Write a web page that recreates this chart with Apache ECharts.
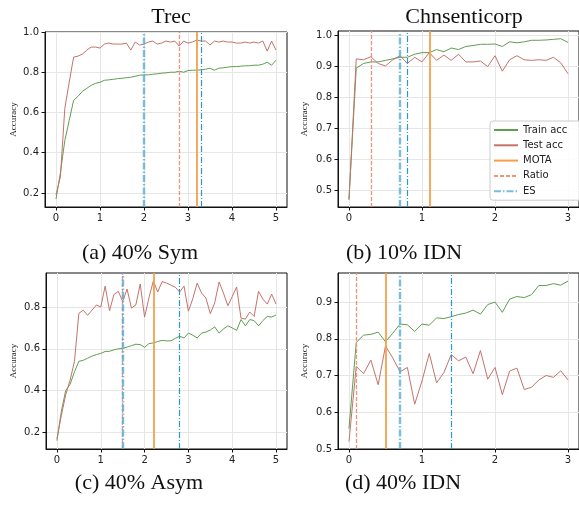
<!DOCTYPE html>
<html>
<head>
<meta charset="utf-8">
<script src="https://cdn.jsdelivr.net/npm/echarts@6/dist/echarts.min.js"></script>
<style>
  html, body { margin: 0; padding: 0; background: #fff; }
  #chart { width: 579px; height: 509px; }
</style>
</head>
<body>
<div id="chart"></div>
<script>
  // epochs
  const epochs5 = [0, 0.1, 0.2, 0.3, 0.4, 0.5, 0.6, 0.7, 0.8, 0.9, 1, 1.1, 1.2, 1.3, 1.4, 1.5, 1.6, 1.7, 1.8, 1.9,
    2, 2.1, 2.2, 2.3, 2.4, 2.5, 2.6, 2.7, 2.8, 2.9, 3, 3.1, 3.2, 3.3, 3.4, 3.5, 3.6, 3.7, 3.8, 3.9,
    4, 4.1, 4.2, 4.3, 4.4, 4.5, 4.6, 4.7, 4.8, 4.9, 5]
  const epochs3 = [0, 0.1, 0.2, 0.3, 0.4, 0.5, 0.6, 0.7, 0.8, 0.9, 1, 1.1, 1.2, 1.3, 1.4, 1.5, 1.6, 1.7, 1.8, 1.9,
    2, 2.1, 2.2, 2.3, 2.4, 2.5, 2.6, 2.7, 2.8, 2.9, 3]

  // (a) Trec, 40% Sym
  const symTrain = [0.17, 0.30, 0.46, 0.56, 0.66, 0.68, 0.705, 0.72, 0.735, 0.745, 0.75,
    0.76, 0.762, 0.765, 0.768, 0.77, 0.773, 0.775, 0.78, 0.785, 0.787,
    0.787, 0.79, 0.792, 0.795, 0.797, 0.80, 0.80, 0.805, 0.80, 0.808,
    0.81, 0.81, 0.812, 0.815, 0.82, 0.81, 0.82, 0.822, 0.825, 0.828,
    0.828, 0.83, 0.832, 0.832, 0.835, 0.835, 0.84, 0.85, 0.835, 0.86]
  const symTest = [0.19, 0.28, 0.62, 0.75, 0.875, 0.88, 0.89, 0.91, 0.925, 0.925, 0.92,
    0.94, 0.945, 0.94, 0.94, 0.94, 0.945, 0.91, 0.95, 0.935, 0.94,
    0.95, 0.955, 0.94, 0.945, 0.955, 0.95, 0.955, 0.93, 0.955, 0.945,
    0.95, 0.96, 0.955, 0.955, 0.935, 0.955, 0.95, 0.955, 0.95, 0.95,
    0.945, 0.945, 0.95, 0.945, 0.95, 0.945, 0.955, 0.905, 0.955, 0.91]

  // (b) Chnsenticorp, 10% IDN
  const idn10Train = [0.47, 0.895, 0.91, 0.915, 0.915, 0.92, 0.925, 0.93, 0.93, 0.94, 0.945,
    0.945, 0.955, 0.948, 0.96, 0.955, 0.965, 0.968, 0.972, 0.972, 0.973,
    0.965, 0.98, 0.977, 0.98, 0.985, 0.985, 0.986, 0.988, 0.99, 0.978]
  const idn10Test = [0.47, 0.925, 0.922, 0.932, 0.91, 0.902, 0.922, 0.935, 0.91, 0.93, 0.915,
    0.945, 0.92, 0.937, 0.92, 0.94, 0.915, 0.915, 0.918, 0.9, 0.935,
    0.885, 0.922, 0.935, 0.922, 0.92, 0.922, 0.92, 0.93, 0.912, 0.877]

  // (c) Trec, 40% Asym
  const asymTrain = [0.16, 0.30, 0.40, 0.43, 0.49, 0.54, 0.545, 0.555, 0.565, 0.572, 0.578,
    0.587, 0.588, 0.595, 0.60, 0.602, 0.608, 0.615, 0.622, 0.62, 0.607,
    0.625, 0.628, 0.635, 0.64, 0.638, 0.638, 0.65, 0.66, 0.652, 0.675,
    0.665, 0.652, 0.675, 0.68, 0.69, 0.705, 0.675, 0.695, 0.71, 0.70,
    0.688, 0.74, 0.71, 0.74, 0.735, 0.71, 0.735, 0.755, 0.752, 0.762]
  const asymTest = [0.17, 0.28, 0.38, 0.45, 0.54, 0.77, 0.785, 0.76, 0.785, 0.81, 0.80,
    0.9, 0.782, 0.86, 0.875, 0.827, 0.886, 0.795, 0.81, 0.91, 0.752,
    0.845, 0.925, 0.872, 0.922, 0.915, 0.905, 0.895, 0.872, 0.9, 0.78,
    0.84, 0.915, 0.867, 0.843, 0.768, 0.82, 0.92, 0.867, 0.806, 0.85,
    0.896, 0.747, 0.742, 0.776, 0.755, 0.875, 0.838, 0.814, 0.862, 0.814]

  // (d) Chnsenticorp, 40% IDN
  const idn40Train = [0.555, 0.79, 0.81, 0.812, 0.818, 0.792, 0.815, 0.84, 0.838, 0.82, 0.84,
    0.837, 0.857, 0.855, 0.86, 0.866, 0.87, 0.878, 0.867, 0.893, 0.90,
    0.872, 0.908, 0.915, 0.912, 0.92, 0.945, 0.945, 0.95, 0.946, 0.957]
  const idn40Test = [0.52, 0.725, 0.705, 0.742, 0.675, 0.78, 0.748, 0.71, 0.722, 0.622, 0.685,
    0.76, 0.68, 0.708, 0.757, 0.74, 0.75, 0.705, 0.768, 0.69, 0.722,
    0.648, 0.712, 0.72, 0.662, 0.668, 0.688, 0.70, 0.695, 0.713, 0.688]

  // stopping points (a, b, c, d)
  const motaAt = [3.2, 1.1, 2.2, 0.5]
  const ratioAt = [2.8, 0.3, 1.5, 0.1]
  const esAt = [[2.0, 3.3], [0.7, 0.8], [1.5, 2.8], [0.7, 1.4]]

  const xTicks5 = [0, 1, 2, 3, 4, 5]
  const xTicks3 = [0, 1, 2, 3]
  const yTicksA = [0.2, 0.4, 0.6, 0.8, 1.0]
  const yTicksB = [0.5, 0.6, 0.7, 0.8, 0.9, 1.0]
  const yTicksC = [0.2, 0.4, 0.6, 0.8]
  const yTicksD = [0.5, 0.6, 0.7, 0.8, 0.9]

  const topTitles = ['Trec', 'Chnsenticorp']
  const captions = ['(a) 40% Sym', '(b) 10% IDN', '(c) 40% Asym', '(d) 40% IDN']

  const GREEN = '#5f9e50'
  const RED = '#c4736b'
  const ORANGE = '#f6a04a'
  const SALMON = '#f59274'
  const BLUE_THICK = 'rgba(88,172,214,0.8)'
  const BLUE_THIN = '#2c98d2'
  const SERIF = '"Liberation Serif", "DejaVu Serif", serif'
  const SANS = '"DejaVu Sans", sans-serif'

  const panels = [
    { grid: { left: 45, top: 32, width: 242, height: 175 }, x: epochs5, train: symTrain, test: symTest,
      xMin: -0.25, xMax: 5.25, xTicks: xTicks5, yMin: 0.13, yMax: 1.0, yTicks: yTicksA, nameGap: 27 },
    { grid: { left: 338, top: 31, width: 242, height: 176 }, x: epochs3, train: idn10Train, test: idn10Test,
      xMin: -0.15, xMax: 3.15, xTicks: xTicks3, yMin: 0.446, yMax: 1.015, yTicks: yTicksB, nameGap: 29 },
    { grid: { left: 46, top: 273, width: 241, height: 176 }, x: epochs5, train: asymTrain, test: asymTest,
      xMin: -0.25, xMax: 5.25, xTicks: xTicks5, yMin: 0.12, yMax: 0.963, yTicks: yTicksC, nameGap: 28 },
    { grid: { left: 338, top: 273, width: 242, height: 176 }, x: epochs3, train: idn40Train, test: idn40Test,
      xMin: -0.15, xMax: 3.15, xTicks: xTicks3, yMin: 0.5, yMax: 0.979, yTicks: yTicksD, nameGap: 29 }
  ]

  const zip = (xs, ys) => xs.map((x, i) => [x, ys[i]])

  const grids = []
  const xAxes = []
  const yAxes = []
  const series = []

  panels.forEach((p, i) => {
    grids.push(Object.assign({
      show: true, borderColor: '#111', borderWidth: 1, backgroundColor: 'transparent'
    }, p.grid))
    xAxes.push({
      type: 'value', gridIndex: i, min: p.xMin, max: p.xMax,
      axisLine: { show: true, onZero: false, lineStyle: { color: '#111', width: 1 } },
      axisTick: { show: true, length: 3.5, lineStyle: { color: '#111' }, customValues: p.xTicks },
      axisLabel: { color: '#222', fontFamily: SANS, fontSize: 10, margin: 6, customValues: p.xTicks },
      splitLine: { show: true, lineStyle: { color: '#e6e6e6', width: 1 } }
    })
    yAxes.push({
      type: 'value', gridIndex: i, min: p.yMin, max: p.yMax,
      name: 'Accuracy', nameLocation: 'middle', nameGap: p.nameGap,
      nameTextStyle: { fontFamily: SERIF, fontSize: 9, color: '#222' },
      axisLine: { show: true, onZero: false, lineStyle: { color: '#111', width: 1 } },
      axisTick: { show: true, length: 3.5, lineStyle: { color: '#111' }, customValues: p.yTicks },
      axisLabel: { color: '#222', fontFamily: SANS, fontSize: 10, margin: 6, customValues: p.yTicks,
        formatter: v => v.toFixed(1) },
      splitLine: { show: true, lineStyle: { color: '#e6e6e6', width: 1 } }
    })

    const common = { xAxisIndex: i, yAxisIndex: i, type: 'line', symbol: 'none', animation: false, silent: true }
    series.push(Object.assign({ name: 'Train acc', data: zip(p.x, p.train),
      lineStyle: { color: GREEN, width: 1 }, itemStyle: { color: GREEN } }, common))
    series.push(Object.assign({ name: 'Test acc', data: zip(p.x, p.test),
      lineStyle: { color: RED, width: 1 }, itemStyle: { color: RED } }, common))

    const vline = (name, xs, styles) => Object.assign({
      name, data: [],
      lineStyle: styles[0], itemStyle: { color: styles[0].color },
      markLine: {
        symbol: ['none', 'none'], silent: true, animation: false,
        label: { show: false }, emphasis: { disabled: true },
        data: xs.map((x, k) => ({ xAxis: x, lineStyle: styles[Math.min(k, styles.length - 1)] }))
      }
    }, common)

    series.push(vline('MOTA', [motaAt[i]], [{ color: ORANGE, width: 1.8, type: 'solid' }]))
    series.push(vline('Ratio', [ratioAt[i]], [{ color: SALMON, width: 1.3, type: [4, 2] }]))
    series.push(vline('ES', esAt[i], [
      { color: BLUE_THICK, width: 2.4, type: [7, 2, 1.5, 2] },
      { color: BLUE_THIN, width: 1.2, type: [6, 2, 1, 2] }
    ]))
  })

  const titles = [
    { text: topTitles[0], left: 166, top: 1 },
    { text: topTitles[1], left: 459, top: 1 },
    { text: captions[0], left: 135, top: 237 },
    { text: captions[1], left: 399, top: 237 },
    { text: captions[2], left: 134, top: 467 },
    { text: captions[3], left: 398, top: 467 }
  ].map(t => Object.assign(t, {
    textAlign: 'center',
    textStyle: { fontFamily: SERIF, fontSize: 22, fontWeight: 'normal', color: '#111' }
  }))

  const chart = echarts.init(document.getElementById('chart'), null, { renderer: 'canvas' })
  chart.setOption({
    animation: false,
    backgroundColor: '#fff',
    title: titles,
    legend: {
      data: ['Train acc', 'Test acc', 'MOTA', 'Ratio', 'ES'],
      orient: 'vertical', left: 490, top: 121,
      itemWidth: 24, itemHeight: 10, itemGap: 5.3,
      padding: [4, 30, 4, 3],
      backgroundColor: 'rgba(255,255,255,0.85)',
      borderColor: '#cccccc', borderWidth: 1, borderRadius: 3,
      itemStyle: { opacity: 0 },
      textStyle: { fontFamily: SANS, fontSize: 10, color: '#222' },
      selectedMode: false
    },
    grid: grids,
    xAxis: xAxes,
    yAxis: yAxes,
    series
  })
</script>
</body>
</html>
